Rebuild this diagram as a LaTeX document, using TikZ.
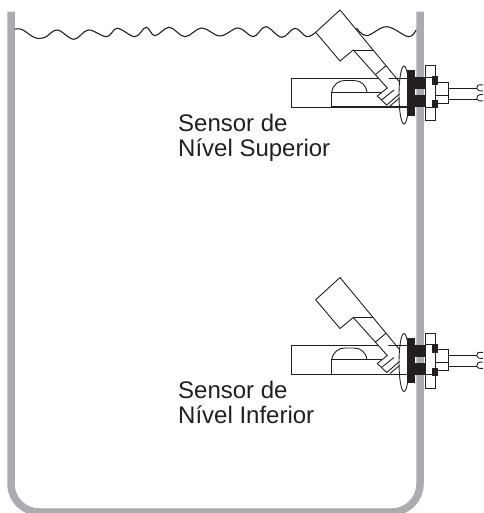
\documentclass[tikz,border=0pt]{standalone}
\usepackage{fontspec}
\setmainfont{Liberation Sans}
\definecolor{wallgray}{RGB}{170,172,176}
\definecolor{inkblack}{RGB}{35,31,32}
\tikzset{
  ink/.style={draw=inkblack,line width=0.9pt,line join=miter},
  wave/.style={draw=inkblack,line width=1.1pt},
  solidpart/.style={fill=inkblack,draw=none},
  wallline/.style={draw=wallgray,line width=7.5pt},
  caption/.style={anchor=base west,inner sep=0pt,font=\fontsize{24}{28}\selectfont,text=inkblack},
}
\newcommand{\levelsensor}[2]{%
\begin{scope}[yshift=#1]
  % float housing
  \draw[ink] (331.7,107) -- (291.7,107) -- (291.7,78) -- (407,78);
  \draw[ink,line width=#2] (331.7,107) -- (407,107);
  \draw[ink] (331.7,107) -- (331.7,92.3) -- (384,92.3);
  \draw[ink] (331.7,92.3) .. controls (333,84) and (339,80.5) .. (345,80.5) -- (354,80.5) .. controls (361,80.5) and (366,85) .. (367,92.3);
  % angled arm
  \draw[ink,fill=white] (340,10) -- (315.7,32.3) -- (340,61) -- (353.3,50) -- (387.3,88) -- (377.3,96) -- (386.7,105) -- (399.5,94);
  \draw[ink] (340,10) -- (399.5,82);
  \draw[ink] (353.3,50) -- (372.7,50);
  \draw[ink] (375,75) -- (386,65.7);
  \draw[ink] (381.5,100) -- (394,90);
  \draw[ink] (390,106) -- (399.5,98);
  % o-ring
  \draw[ink] (404,95) ellipse [x radius=5,y radius=29];
  % flange
  \fill[solidpart] (407.3,70) rectangle (415,115.7);
  \fill[solidpart] (415,77.3) rectangle (425.7,89.3);
  \fill[solidpart] (415,95) rectangle (425.7,107.3);
  % nut
  \draw[ink,fill=white] (425.7,65.7) rectangle (435.3,120.7);
  \draw[ink,fill=white] (435.3,82) rectangle (448.7,103);
  \draw[ink] (435.3,95) -- (448.7,95);
  \draw[ink] (425.7,77.3) -- (432,77.3);
  \draw[ink] (425.7,107.3) -- (432,107.3);
  \fill[solidpart] (432,76) rectangle (437.7,85);
  \fill[solidpart] (432,100) rectangle (437.7,108.5);
  % wires
  \draw[ink] (448.7,88.3) -- (476.7,88.3) (448.7,99) -- (476.7,99);
  \draw[ink] (483,85) .. controls (478,84) and (476,86) .. (476.7,88.3) .. controls (477,90.5) and (480,91.5) .. (483,91);
  \draw[ink] (483,94.5) .. controls (478,94) and (476,96.5) .. (476.7,99) .. controls (477,100.5) and (480,101.5) .. (483,101);
\end{scope}}
\begin{document}
\begin{tikzpicture}[x=1pt,y=-1pt]
\useasboundingbox (0,0) rectangle (483,513);
\begin{scope}
\clip (0,0) rectangle (483,513);
% tank wall
\draw[wallline] (11,11.7) -- (11,484) arc[start angle=180,end angle=90,radius=28] -- (392,512) arc[start angle=90,end angle=0,radius=28] -- (420,11.7);
\end{scope}
% liquid surface
\draw[wave] plot[smooth,tension=0.6] coordinates {(14.7,29.3) (22,29.5) (35,37.7) (45,37.3) (57.3,30) (74,39.3) (88.3,30) (106.7,36.7) (117.3,28.3) (135,36.7) (146,27.3) (155,35.7) (169.3,27.3) (185,36.7) (201.7,28) (220,36) (238.3,28) (253.3,36.7) (265.7,26.7) (281.7,37.3) (295,28.3) (306.7,36.7) (315.7,32.3)};
\draw[wave] plot[smooth,tension=0.6] coordinates {(356.5,28) (366.7,35.7) (386.7,26.7) (408.3,36.7) (416,30)};
% sensors
\levelsensor{0pt}{1.6pt}
\levelsensor{-267.5pt}{0.9pt}
% labels
\node[caption] (upper1) at (178,131.5) {Sensor de};
\node[caption] (upper2) at (178,156.5) {Nível Superior};
\node[caption] (lower1) at (178,398) {Sensor de};
\node[caption] (lower2) at (178,423.7) {Nível Inferior};
\end{tikzpicture}
\end{document}
